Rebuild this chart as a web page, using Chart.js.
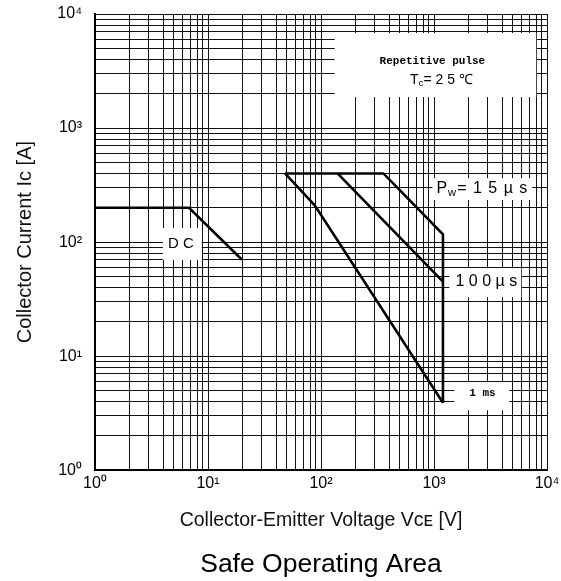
<!DOCTYPE html>
<html><head><meta charset="utf-8">
<script src="https://cdn.jsdelivr.net/npm/chart.js@4.4.1/dist/chart.umd.min.js"></script>
<style>html,body{margin:0;padding:0;background:#fff}#wrap{width:561px;height:581px;position:relative}</style>
</head><body><div id="wrap"><canvas id="c"></canvas></div>
<script>
// ---- data ----
const decades = [1, 10, 100, 1000, 10000];
const decadeLabels = ['10⁰', '10¹', '10²', '10³', '10⁴'];
const minorSteps = [2, 3, 4, 5, 6, 7, 8, 9];

const dcV = [1, 6.8, 20];
const dcI = [200, 200, 70];
const ms1V = [48, 88, 1200];
const ms1I = [400, 210, 3.9];
const us100V = [140, 1200];
const us100I = [400, 45];
const us15V = [48, 357, 1200, 1200];
const us15I = [400, 400, 117, 3.9];

const xTitle = 'Collector-Emitter Voltage Vᴄᴇ [V]';
const yTitle = 'Collector Current Iᴄ [A]';
const mainTitle = 'Safe Operating Area';

// annotation labels (data coordinates)
const notes = [
  {box: [132, 6810, 8030, 1870], lines: [
    {x: 968, y: 3870, font: 'bold 11px "Liberation Mono", monospace', runs: [['Repetitive pulse']]},
    {x: 1163, y: 2640, font: '14px "Liberation Sans", Arial, sans-serif', runs: [['T'], ['c', 1], ['= 2 5 ℃']]}
  ]},
  {box: [968, 364, 7400, 234], lines: [
    {x: 2680, y: 292, font: '16px "Liberation Sans", Arial, sans-serif', spacing: 1, runs: [['P'], ['w', 1], ['= 1 5 µ s']]}
  ]},
  {box: [1368, 59.1, 5920, 32.9], lines: [
    {x: 2904, y: 44.6, font: '16px "Liberation Sans", Arial, sans-serif', runs: [['1 0 0 µ s']]}
  ]},
  {box: [1514, 5.91, 4635, 3.36], lines: [
    {x: 2680, y: 4.74, font: 'bold 11px "Liberation Mono", monospace', runs: [['1 ms']]}
  ]},
  {box: [3.99, 133, 8.81, 69.5], lines: [
    {x: 5.75, y: 96, font: '15px "Liberation Sans", Arial, sans-serif', runs: [['D C']]}
  ]}
];

// ---- helpers ----
const gridTicks = [];
decades.forEach((d, i) => {
  gridTicks.push(d);
  if (i < decades.length - 1) minorSteps.forEach(m => gridTicks.push(m * d));
});
const toPts = (xs, ys) => xs.map((v, i) => ({x: v, y: ys[i]}));

function drawRuns(ctx, cx, cy, runs, font, spacing) {
  const m = font.match(/(\d+(?:\.\d+)?)px/);
  const size = parseFloat(m[1]);
  const subFont = font.replace(m[0], (size * 0.7).toFixed(1) + 'px');
  try { ctx.letterSpacing = (spacing || 0) + 'px'; } catch (e) {}
  let total = 0;
  const widths = runs.map(r => { ctx.font = r[1] ? subFont : font; const w = ctx.measureText(r[0]).width; total += w; return w; });
  let x = cx - total / 2;
  ctx.fillStyle = '#000';
  ctx.textAlign = 'left';
  ctx.textBaseline = 'middle';
  runs.forEach((r, i) => {
    ctx.font = r[1] ? subFont : font;
    ctx.fillText(r[0], x, cy + (r[1] ? size * 0.25 : 0));
    x += widths[i];
  });
  try { ctx.letterSpacing = '0px'; } catch (e) {}
}

const notePlugin = {
  id: 'notes',
  beforeDatasetsDraw(chart) {
    const {ctx} = chart;
    const xs = chart.scales.x, ys = chart.scales.y;
    ctx.save();
    notes.forEach(n => {
      const x1 = xs.getPixelForValue(n.box[0]), y1 = ys.getPixelForValue(n.box[1]);
      const x2 = xs.getPixelForValue(n.box[2]), y2 = ys.getPixelForValue(n.box[3]);
      ctx.fillStyle = '#fff';
      ctx.fillRect(x1, y1, x2 - x1, y2 - y1);
      n.lines.forEach(l => drawRuns(ctx, xs.getPixelForValue(l.x), ys.getPixelForValue(l.y), l.runs, l.font, l.spacing));
    });
    ctx.restore();
  }
};

const lineStyle = {showLine: true, borderColor: '#000', borderWidth: 2.6, pointRadius: 0, fill: false, tension: 0};
const tickFont = {family: '"Liberation Sans Narrow", "Liberation Sans", Arial, sans-serif', size: 16};

function logAxis(labelPad, title, titlePad) {
  return {
    type: 'logarithmic', min: 1, max: 10000,
    afterBuildTicks: s => { s.ticks = gridTicks.map(v => ({value: v})); },
    ticks: {
      autoSkip: false, maxRotation: 0, padding: labelPad, color: '#000', font: tickFont,
      callback: v => { const i = decades.indexOf(v); return i >= 0 ? decadeLabels[i] : ''; }
    },
    grid: {color: '#111', lineWidth: 1, drawTicks: false},
    border: {color: '#000', width: 2},
    title: {display: true, text: title, color: '#111',
      font: {family: '"Liberation Sans", Arial, sans-serif', size: 19.5}, padding: titlePad}
  };
}

const xAxis = logAxis(4, xTitle, {top: 0, bottom: 11});
xAxis.afterFit = s => { s.height = 73; s.paddingLeft = 0; s.paddingRight = 0; };
const yAxis = logAxis(13, yTitle, {top: 13, bottom: 0});
yAxis.title.font.size = 20;
yAxis.afterFit = s => { s.width = 95; s.paddingTop = 0; s.paddingBottom = 0; };

new Chart(document.getElementById('c'), {
  type: 'scatter',
  data: {datasets: [
    Object.assign({label: 'DC', data: toPts(dcV, dcI)}, lineStyle),
    Object.assign({label: '1ms', data: toPts(ms1V, ms1I)}, lineStyle),
    Object.assign({label: '100µs', data: toPts(us100V, us100I)}, lineStyle),
    Object.assign({label: '15µs', data: toPts(us15V, us15I)}, lineStyle)
  ]},
  options: {
    responsive: true, maintainAspectRatio: false, animation: false, devicePixelRatio: 1,
    layout: {padding: {top: 14, right: 14, left: 0, bottom: 0}},
    scales: {x: xAxis, y: yAxis},
    plugins: {
      legend: {display: false}, tooltip: {enabled: false},
      title: {display: true, text: mainTitle, position: 'bottom', fullSize: false, color: '#000',
        font: {family: '"Liberation Sans", Arial, sans-serif', size: 26.5, weight: 'normal'},
        padding: {top: 6, bottom: 0}}
    }
  },
  plugins: [notePlugin]
});
</script></body></html>
